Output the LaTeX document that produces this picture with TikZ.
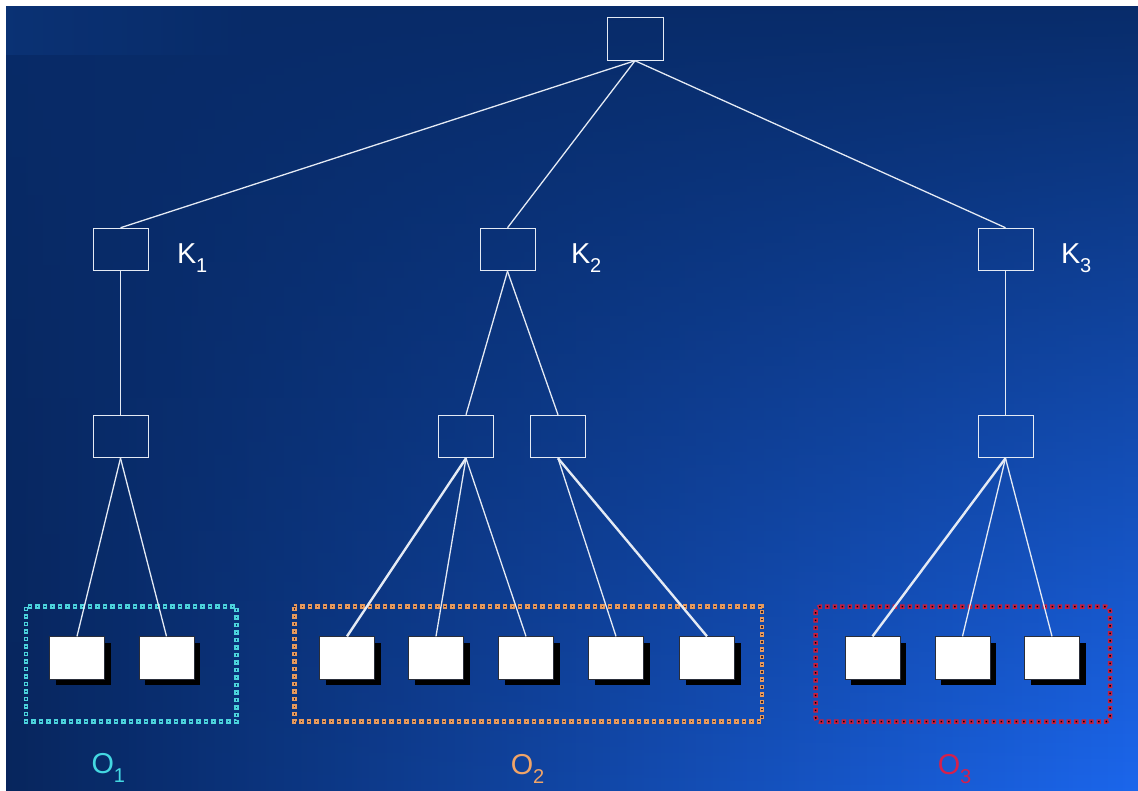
\documentclass[tikz,border=0pt]{standalone}
\usepackage{fontspec}
\setmainfont{Liberation Sans}
\usetikzlibrary{fadings,shadows}

\definecolor{bgleft}{HTML}{07255C}
\definecolor{bgright}{HTML}{1C68F0}
\definecolor{bgtop}{HTML}{082B68}
\definecolor{bandc}{HTML}{0D387E}
\definecolor{wirec}{HTML}{E4EAF4}
\definecolor{leafedge}{HTML}{2A2E3A}
\definecolor{cyanf}{HTML}{4CD4DC}
\definecolor{cyanin}{HTML}{0A2F70}
\definecolor{orangef}{HTML}{E89A5C}
\definecolor{orangein}{HTML}{3A2630}
\definecolor{redf}{HTML}{C81E40}
\definecolor{redin}{HTML}{000000}
\definecolor{oonec}{HTML}{44D8E2}
\definecolor{otwoc}{HTML}{F0A468}
\definecolor{othreec}{HTML}{D4204C}

\tikzfading[name=fadedown, top color=transparent!0, middle color=transparent!72, bottom color=transparent!100]
\tikzfading[name=faderight, left color=transparent!0, right color=transparent!100]

\newcommand\lowsub[1]{\raisebox{-9pt}{\fontsize{20}{20}\selectfont #1}}

\begin{document}
\begin{tikzpicture}[x=1pt, y=-1pt,
  hbox/.style={draw=wirec, line width=1pt, minimum width=55pt, minimum height=42.5pt, inner sep=0pt},
  leaf/.style={draw=leafedge, line width=0.8pt, fill=white, minimum width=55pt, minimum height=42.5pt, inner sep=0pt,
    drop shadow={shadow xshift=6pt, shadow yshift=-6pt, fill=black, opacity=1}},
  wire/.style={draw=wirec, line width=1.3pt},
  boldwire/.style={draw=wirec, line width=2.4pt},
  dotframe/.style n args={2}{preaction={draw=#1, line width=4.5pt, dash pattern=on 4.5pt off 3pt, dash phase=0pt},
    draw=#2, line width=1.5pt, dash pattern=on 1.5pt off 6pt, dash phase=6pt},
  biglabel/.style={anchor=base west, inner sep=0pt, font=\fontsize{28.8}{30}\selectfont}]

% page and blue backdrop
\useasboundingbox (0,0) rectangle (1138,791);
\fill[white] (0,0) rectangle (1138,791);
\begin{scope}
  \clip (6,7) rectangle (1138,791);
  \shade[left color=bgleft, right color=bgright] (0,0) rectangle (1150,800);
  \fill[bgtop, path fading=fadedown] (0,-5) rectangle (1150,800);
  \fill[bandc, path fading=faderight, opacity=0.6] (0,0) rectangle (260,55);
\end{scope}

% group frames
\draw[dotframe={cyanf}{cyanin}] (26,606.7) rectangle (236.7,721.7);
\draw[dotframe={orangef}{orangein}] (294.3,606.7) rectangle (762,721.7);
\draw[dotframe={redf}{redin}, rounded corners=4pt] (815.7,606.7) rectangle (1110,721.7);

% tree nodes
\node[hbox, minimum width=56pt] (root) at (635,39) {};
\node[hbox] (k1) at (120.5,249.5) {};
\node[hbox] (k2) at (507.5,249.5) {};
\node[hbox] (k3) at (1005.5,249.5) {};
\node[hbox] (m1) at (120.5,436.5) {};
\node[hbox] (m2) at (466,436.5) {};
\node[hbox] (m3) at (558,436.5) {};
\node[hbox] (m4) at (1005.5,436.5) {};

% leaves
\node[leaf] (a1) at (77,658) {};
\node[leaf] (a2) at (166.5,658) {};
\node[leaf] (b1) at (347,658) {};
\node[leaf] (b2) at (436,658) {};
\node[leaf] (b3) at (526,658) {};
\node[leaf] (b4) at (616,658) {};
\node[leaf] (b5) at (707,658) {};
\node[leaf] (c1) at (872.5,658) {};
\node[leaf] (c2) at (962.5,658) {};
\node[leaf] (c3) at (1052,658) {};

% connectors
\draw[wire] (root.south) -- (k1.north);
\draw[wire] (root.south) -- (k2.north);
\draw[wire] (root.south) -- (k3.north);
\draw[wire] (k1.south) -- (m1.north);
\draw[wire] (k2.south) -- (m2.north);
\draw[wire] (k2.south) -- (m3.north);
\draw[wire] (k3.south) -- (m4.north);
\draw[wire] (m1.south) -- (a1.north);
\draw[wire] (m1.south) -- (a2.north);
\draw[boldwire] (m2.south) -- (b1.north);
\draw[wire] (m2.south) -- (b2.north);
\draw[wire] (m2.south) -- (b3.north);
\draw[wire] (m3.south) -- (b4.north);
\draw[boldwire] (m3.south) -- (b5.north);
\draw[boldwire] (m4.south) -- (c1.north);
\draw[wire] (m4.south) -- (c2.north);
\draw[wire] (m4.south) -- (c3.north);

% labels
\node[biglabel, text=white] (lk1) at (176.8,263.3) {K\lowsub{1}};
\node[biglabel, text=white] (lk2) at (570.8,263.3) {K\lowsub{2}};
\node[biglabel, text=white] (lk3) at (1060.8,263.3) {K\lowsub{3}};
\node[biglabel, text=oonec] (lo1) at (91.3,773.5) {O\lowsub{1}};
\node[biglabel, text=otwoc] (lo2) at (510.6,774) {O\lowsub{2}};
\node[biglabel, text=othreec] (lo3) at (937.6,774) {O\lowsub{3}};
\end{tikzpicture}
\end{document}
